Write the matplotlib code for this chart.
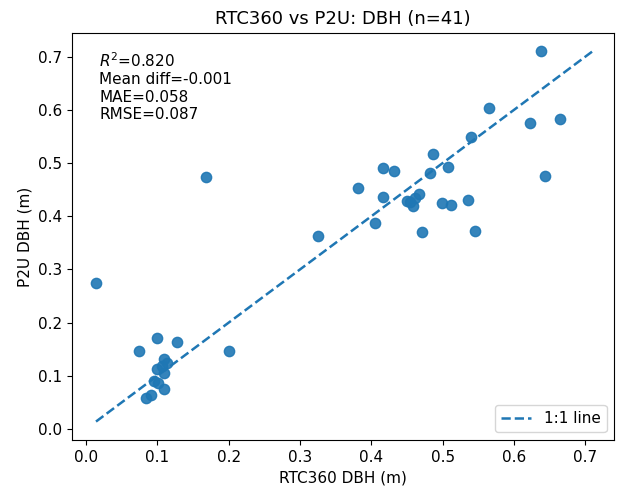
import numpy as np
import matplotlib
matplotlib.use("Agg")
import matplotlib.pyplot as plt

rtc360 = [0.075, 0.099, 0.127, 0.110, 0.114, 0.100, 0.110, 0.095, 0.101, 0.109, 0.091, 0.084, 0.106,
          0.014, 0.168, 0.200, 0.325,
          0.382, 0.416, 0.432, 0.487, 0.482, 0.507, 0.416, 0.450, 0.458, 0.462, 0.467, 0.499, 0.512,
          0.536, 0.405, 0.471, 0.546, 0.540, 0.455,
          0.638, 0.565, 0.623, 0.664, 0.643]
p2u = [0.147, 0.171, 0.163, 0.131, 0.124, 0.112, 0.105, 0.090, 0.086, 0.075, 0.064, 0.058, 0.118,
       0.275, 0.474, 0.147, 0.363,
       0.453, 0.491, 0.485, 0.518, 0.481, 0.492, 0.436, 0.429, 0.420, 0.434, 0.442, 0.425, 0.422,
       0.431, 0.388, 0.371, 0.373, 0.550, 0.426,
       0.710, 0.603, 0.576, 0.583, 0.476]
stats_text = "$R^2$=0.820\nMean diff=-0.001\nMAE=0.058\nRMSE=0.087"

x = np.array(rtc360)
y = np.array(p2u)

fig = plt.figure(figsize=(6.21, 4.90), dpi=100)
ax = fig.add_axes([0.116, 0.102, 0.873, 0.831])
ax.scatter(x, y, s=55, color="#1f77b4", alpha=0.9, zorder=2)
lo = min(x.min(), y.min())
hi = max(x.max(), y.max())
ax.plot([lo, hi], [lo, hi], "--", color="#1f77b4", label="1:1 line", lw=1.8)
ax.set_xlim(-0.0196, 0.7406)
ax.set_ylim(-0.0207, 0.745)
ax.tick_params(labelsize=11)
ax.set_xlabel("RTC360 DBH (m)", fontsize=11)
ax.set_ylabel("P2U DBH (m)", fontsize=11)
ax.set_title("RTC360 vs P2U: DBH (n=41)", fontsize=13)
ax.text(0.05, 0.955, stats_text, transform=ax.transAxes, va="top", ha="left", fontsize=11)
ax.legend(loc="lower right", fontsize=11)
fig.savefig("out.png", dpi=100)
